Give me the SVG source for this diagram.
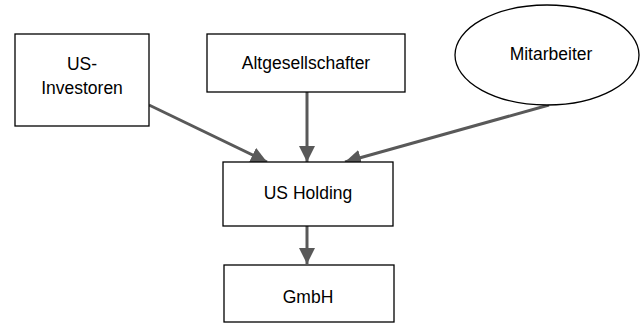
<svg xmlns="http://www.w3.org/2000/svg" width="643" height="324" viewBox="0 0 643 324">
<style>
.box{fill:#fff;stroke:#000;stroke-width:1.3}
.lbl{font-family:"Liberation Sans",Arial,sans-serif;font-size:17.5px;fill:#000;text-anchor:middle}
.con{stroke:#595959;stroke-width:3;fill:none}
</style>
<defs>
<marker id="ah" markerUnits="userSpaceOnUse" markerWidth="16" markerHeight="16" viewBox="0 0 16 16" refX="16" refY="8" orient="auto">
<path d="M0,0 L16,8 L0,16 Z" fill="#595959"/>
</marker>
</defs>
<rect width="643" height="324" fill="#fff"/>
<g id="connectors">
<line class="con" x1="149" y1="105" x2="267" y2="162" marker-end="url(#ah)"/>
<line class="con" x1="307" y1="92" x2="307" y2="162" marker-end="url(#ah)"/>
<line class="con" x1="549" y1="105" x2="345" y2="162" marker-end="url(#ah)"/>
<line class="con" x1="307" y1="226" x2="307" y2="264" marker-end="url(#ah)"/>
</g>
<g id="us-investoren">
<rect class="box" x="15" y="34" width="134" height="92"/>
<text class="lbl" x="82" y="70">US-</text>
<text class="lbl" x="82" y="94">Investoren</text>
</g>
<g id="altgesellschafter">
<rect class="box" x="207" y="34" width="198" height="58"/>
<text class="lbl" x="306" y="69">Altgesellschafter</text>
</g>
<g id="mitarbeiter">
<ellipse class="box" cx="547" cy="55" rx="92" ry="50"/>
<text class="lbl" x="551" y="60">Mitarbeiter</text>
</g>
<g id="us-holding">
<rect class="box" x="223" y="162" width="170" height="64"/>
<text class="lbl" x="308" y="199">US Holding</text>
</g>
<g id="gmbh">
<rect class="box" x="224" y="265" width="170" height="57"/>
<text class="lbl" x="308" y="303">GmbH</text>
</g>
</svg>
